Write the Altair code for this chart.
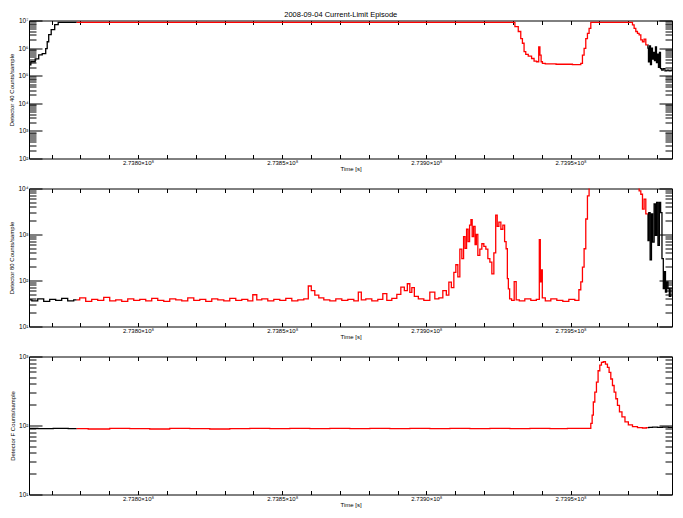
import altair as alt
import pandas as pd

FONT = "Liberation Sans"
TITLE = "2008-09-04 Current-Limit Episode"
X_TITLE = "Time [s]"
Y_TITLES = ["Detector 40 Counts/sample", "Detector 80 Counts/sample", "Detector F Counts/sample"]

# time in seconds relative to T_BASE
T_BASE = 273800000
X_DOMAIN = [-37820, 185200]
RED_RANGE = [-21270, 176800]
X_MAJOR_STEP = 50000
X_TICKS = list(range(-30000, 185001, 10000))

# Panel 1
P1_T = [-37820, -36540, -34800, -34110, -32370, -31680, -31330, -30640, -29600, -28210,
        -27170, -21270, 130130, 131300, 132450, 133040, 133600, 134180, 134770, 135920,
        137070, 137650, 138800, 139150, 139630, 139980, 140540, 141920, 148060, 153270,
        153860, 154420, 155000, 155590, 156150, 156740, 157330, 171210, 171770, 172350,
        172940, 173500, 174090, 174680, 175240, 175820, 176410, 176800, 176870, 177210,
        177560, 177910, 178250, 178600, 178950, 179290, 179640, 179990, 180330, 180680,
        181030, 181370, 181890, 182410, 183110, 183800, 184500, 185200]
P1_V = [2.45e5, 3.2e5, 4.1e5, 5.7e5, 6.3e5, 9.6e5, 1.7e6, 3.1e6, 4.7e6, 7.1e6,
        8.5e6, 8.5e6, 8.5e6, 6.0e6, 4.0e6, 2.2e6, 1.5e6, 7.4e5, 5.9e5, 5.1e5,
        4.2e5, 3.4e5, 3.2e5, 1.1e6, 5.6e5, 3.2e5, 2.8e5, 2.7e5, 2.6e5, 2.5e5,
        2.8e5, 5.6e5, 9.8e5, 2.2e6, 3.4e6, 5.2e6, 8.5e6, 8.5e6, 6.9e6, 5.2e6,
        4.0e6, 3.4e6, 3.0e6, 2.0e6, 1.7e6, 2.1e6, 1.3e6, 1.3e6, 1.0e6, 3.2e5,
        1.2e6, 2.5e5, 1.0e6, 4.0e5, 7.0e5, 3.5e5, 1.1e6, 3.0e5, 6.0e5, 2.0e5,
        7.0e5, 1.8e5, 1.6e5, 1.8e5, 1.5e5, 1.6e5, 1.5e5, 1.6e5]

# Panel 2
P2_T = [-37820, -35830, -33760, -31680, -29600, -27520, -25440, -23350, -21270, -19190,
        -17110, -15020, -12940, -10860, -8780, -6700, -4610, -2530, -450, 1630,
        3710, 5790, 7880, 9960, 12040, 14120, 16200, 18290, 20370, 22450,
        24530, 26610, 28700, 30780, 32860, 34940, 37020, 39110, 40490, 41880,
        43960, 46040, 48120, 50200, 52290, 54370, 56450, 58530, 59570, 60610,
        62000, 63390, 65470, 67550, 69630, 71720, 73800, 75880, 76920, 77960,
        80040, 82120, 84200, 85590, 86980, 89060, 90450, 91840, 92880, 93920,
        94610, 95310, 96350, 98080, 100160, 102250, 103630, 105020, 106410, 107450,
        108150, 109190, 109880, 110570, 111270, 111960, 112650, 113170, 113690, 114210,
        114730, 115250, 115670, 116120, 116640, 117160, 117510, 118200, 118900, 119590,
        120290, 120980, 121680, 122370, 123060, 123760, 124350, 124800, 125500, 126190,
        126880, 127400, 127920, 128270, 128620, 129140, 130000, 130930, 131380, 133110,
        135190, 137270, 139010, 139350, 139700, 140050, 140390, 142130, 144210, 146290,
        148370, 150460, 152540, 153270, 153860, 154420, 155000, 155590, 156150, 156740,
        173500, 174090, 174680, 175240, 175820, 176410, 176800, 176970, 177320, 177910,
        178250, 178700, 179290, 179640, 180090, 180580, 181030, 181480, 181960, 182410,
        182760, 183110, 183560, 184050, 184500, 185090]
P2_V = [38, 36, 40, 35, 39, 37, 41, 36, 38, 42,
        35, 39, 37, 43, 36, 38, 35, 40, 37, 39,
        36, 41, 37, 35, 40, 38, 36, 42, 37, 39,
        35, 40, 38, 36, 41, 37, 39, 36, 49, 38,
        40, 36, 39, 37, 41, 36, 38, 40, 76, 60,
        48, 42, 38, 36, 40, 37, 39, 36, 56, 38,
        40, 36, 39, 52, 37, 41, 50, 72, 60, 85,
        55, 70, 45, 40, 37, 56, 40, 42, 60, 48,
        92, 70, 150, 220, 120, 480, 300, 900, 500, 1300,
        700, 1600, 2100, 900, 1500, 600, 1000, 350, 480, 630,
        550, 480, 300, 250, 140, 400, 2650, 1500, 1850, 1300,
        1600, 700, 490, 110, 66, 40, 37, 95, 38, 36,
        40, 37, 39, 770, 93, 170, 42, 36, 40, 37,
        35, 39, 37, 63, 93, 195, 490, 2170, 6900, 30000,
        30000, 8900, 7500, 3560, 5900, 2800, 2800, 740, 3000, 280,
        2800, 680, 4600, 960, 5000, 580, 5000, 3000, 300, 67,
        155, 56, 93, 67, 45, 67]

# Panel 3
P3_T = [-37820, -31680, -27170, -21270, -13290, -6350, 590, 7530, 14470, 21410,
        28350, 35290, 42230, 49170, 56110, 63050, 69990, 76930, 83870, 90810,
        97750, 104690, 111630, 118570, 125510, 132450, 139390, 146330, 151540, 156740,
        157330, 157680, 158140, 158720, 159270, 159860, 160450, 161010, 161700, 162530,
        163090, 163680, 164270, 164830, 165420, 166010, 166560, 167390, 168300, 169480,
        170630, 172360, 174090, 175820, 176800, 177560, 179290, 181030, 182760, 185200]
P3_V = [91, 90, 91, 90, 89, 91, 90, 89, 91, 90,
        89, 90, 91, 90, 91, 90, 91, 90, 91, 90,
        91, 90, 91, 90, 91, 90, 91, 90, 91, 91,
        107, 141, 219, 304, 424, 622, 750, 820, 840, 775,
        695, 590, 472, 380, 304, 244, 196, 158, 133, 113,
        102, 96, 93, 92, 93, 94, 95, 94, 95, 94]

Y_DECADES = [(2, 7), (1, 4), (1, 3)]

W, H = 643, 138
MAJ, MIN, XT = 13, 7, 4
LW = 1.3

SUP = "⁰¹²³⁴⁵⁶⁷⁸⁹"
Y_LABEL_EXPR = ("'10' + substring('" + SUP + "', round(log(datum.value)/LN10), "
                "round(log(datum.value)/LN10) + 1)")
X_LABEL_EXPR = (f"(datum.value - {T_BASE}) % {X_MAJOR_STEP} == 0 ? "
                "format(datum.value / 1e8, '.4f') + '×10⁸' : ''")

common_axis = dict(domain=False, grid=False, tickColor="black", tickWidth=1,
                   labelColor="black", labelFont=FONT, titleFont=FONT,
                   titleColor="black", titleFontWeight="normal")


def panel(t, v, dec, ytitle):
    df = pd.DataFrame({"time": [T_BASE + s for s in t], "counts": v})
    lo, hi = dec
    majors = [10 ** k for k in range(lo, hi + 1)]
    minors = [m * 10 ** k for k in range(lo, hi) for m in range(2, 10)]
    xticks = [T_BASE + s for s in X_TICKS]
    xs = alt.Scale(domain=[T_BASE + X_DOMAIN[0], T_BASE + X_DOMAIN[1]], nice=False, zero=False)
    ys = alt.Scale(type="log", domain=[10 ** lo, 10 ** hi], nice=False)
    r0, r1 = T_BASE + RED_RANGE[0], T_BASE + RED_RANGE[1]

    x_bottom = alt.Axis(orient="bottom", values=xticks, tickSize=XT, offset=-XT,
                        labelExpr=X_LABEL_EXPR, labelFontSize=6, labelPadding=1,
                        labelOverlap=False, labelFlush=False, labelBound=False,
                        title=X_TITLE, titleFontSize=6, titlePadding=0, **common_axis)
    x_top = alt.Axis(orient="top", values=xticks, tickSize=XT, offset=-XT,
                     labels=False, title=None, **common_axis)
    y_left = alt.Axis(orient="left", values=majors, tickSize=MAJ, offset=-MAJ,
                      labelExpr=Y_LABEL_EXPR, labelFontSize=6.5, labelPadding=1,
                      labelOverlap=False, labelFlush=False,
                      title=ytitle, titleFontSize=6, titlePadding=3, **common_axis)
    y_right = alt.Axis(orient="right", values=majors, tickSize=MAJ, offset=-MAJ,
                       labels=False, title=None, **common_axis)
    y_left_min = alt.Axis(orient="left", values=minors, tickSize=MIN, offset=-MIN,
                          labels=False, title=None, **common_axis)
    y_right_min = alt.Axis(orient="right", values=minors, tickSize=MIN, offset=-MIN,
                           labels=False, title=None, **common_axis)

    base = alt.Chart(df)
    black_pre = base.transform_filter(f"datum.time <= {r0}").mark_line(
        color="black", strokeWidth=LW, interpolate="step", clip=True).encode(
        x=alt.X("time:Q", scale=xs, axis=x_bottom),
        y=alt.Y("counts:Q", scale=ys, axis=y_left),
    )
    black_post = base.transform_filter(f"datum.time >= {r1}").mark_line(
        color="black", strokeWidth=LW, interpolate="step", clip=True).encode(
        x=alt.X("time:Q", scale=xs, axis=x_top),
        y=alt.Y("counts:Q", scale=ys, axis=y_right),
    )
    red = base.transform_filter(f"datum.time >= {r0} && datum.time <= {r1}").mark_line(
        color="#ff0000", strokeWidth=LW, interpolate="step", clip=True).encode(
        x=alt.X("time:Q", scale=xs, axis=None),
        y=alt.Y("counts:Q", scale=ys, axis=y_left_min),
    )
    ghost = base.mark_line(strokeOpacity=0, interpolate="step", clip=True).encode(
        x=alt.X("time:Q", scale=xs, axis=None),
        y=alt.Y("counts:Q", scale=ys, axis=y_right_min),
    )
    return alt.layer(black_pre, black_post, red, ghost).resolve_axis(
        x="independent", y="independent").properties(width=W, height=H)


p1 = panel(P1_T, P1_V, Y_DECADES[0], Y_TITLES[0])
p2 = panel(P2_T, P2_V, Y_DECADES[1], Y_TITLES[1])
p3 = panel(P3_T, P3_V, Y_DECADES[2], Y_TITLES[2])

chart = alt.vconcat(p1, p2, p3, spacing=30, bounds="flush").properties(
    title=alt.TitleParams(TITLE, fontSize=7.5, font=FONT, fontWeight="normal",
                          color="black", offset=-1.5, anchor="middle"),
    padding={"left": 8, "top": 10.5, "right": 5, "bottom": 5},
    background="white",
).configure_view(stroke="black", strokeWidth=1)

chart.save("out.html", embed_options={"renderer": "svg", "actions": False})
